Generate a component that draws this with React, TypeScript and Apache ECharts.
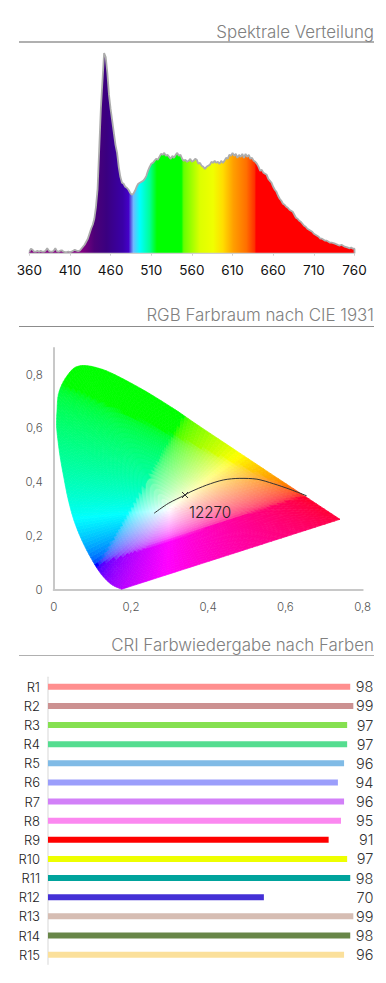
import React, { useEffect, useRef } from "react";
import * as echarts from "echarts";

const W = 386;
const H = 983;
const FONT = "Inter, 'Open Sans', sans-serif";

// --- Spectrum (relative intensity, %, one value every 2 nm from 360 nm)
const spectrumStart = 360;
const spectrumStep = 2;
const spectrumValues = [
  0.5, 2, 1.5, 0.5, 0.5, 1, 0.5, 1, 0.5, 0.5, 1, 2.2, 1, 0.5, 0.5, 1, 2.2, 0.8, 0.5, 1, 1.2, 0.5, 0.3, 0.3, 0.5, 0.3, 0.5, 1, 1.5, 1, 0.8, 1, 2,
  3, 4, 5.5, 7, 9.5, 12, 14, 17, 23, 32, 52, 72, 86, 100, 98, 90, 79, 72, 66, 60, 54, 50, 43, 38, 35, 34.5, 33, 32.5, 31.5, 30, 29, 29.5, 31, 33,
  34.5, 35, 35.5, 36, 37, 38.5, 41, 43, 44.5, 45, 46, 47, 46.5, 48, 49.5, 49, 50, 48.5, 49, 48, 47, 48.5, 47.5, 49, 50, 48.5, 49, 47, 46, 46.5,
  45.5, 46, 47, 45.5, 46, 47, 46.5, 44.5, 45, 43.5, 43, 42, 43, 43.5, 44, 45.5, 45, 46, 45, 45.5, 44.5, 46, 45, 46, 47.5, 47, 49, 48.5, 50, 48.5,
  49.5, 47.5, 49, 48, 49.5, 47.5, 49.5, 48, 49, 47, 47.5, 46, 45.5, 44.5, 43, 41, 41.5, 40, 39.5, 39, 37, 36, 35, 33, 31.5, 30.5, 28.5, 27, 26,
  24.5, 24, 23, 22.5, 21.5, 21, 20.5, 19, 17.5, 17, 16, 15.5, 14.5, 13.5, 13, 12, 11.5, 11, 10.5, 9.5, 9, 8.5, 8, 7, 7, 6.5, 6, 6, 5.5, 5, 5, 4.8,
  4.5, 4.2, 3.8, 3.6, 4, 3.5, 3, 2.8, 2.5, 2.2, 2.6, 2, 2,
];
const spectrumColorStops: [number, string][] = [
  [360, "#800080"], [425, "#800080"], [440, "#4c0078"], [455, "#3a0080"], [475, "#3a00a8"], [482, "#4400c8"],
  [488, "#70b8ff"], [496, "#00ffff"], [508, "#00ff99"], [517, "#00ff00"], [547, "#00ff00"], [550, "#66ff00"],
  [570, "#ddff00"], [586, "#f0ff00"], [598, "#ffdd00"], [611, "#ff9f00"], [627, "#ff7000"], [637, "#ff3000"],
  [639, "#ff0000"], [760, "#ff0000"],
];

// --- CIE 1931 chromaticity diagram (outline)
const locusX = [0.176, 0.159, 0.141, 0.115, 0.081, 0.055, 0.038, 0.025, 0.016, 0.0085, 0.0075, 0.0085, 0.012, 0.025, 0.047, 0.064, 0.081, 0.107, 0.15, 0.236, 0.323, 0.366, 0.553, 0.741];
const locusY = [0.001, 0.011, 0.029, 0.073, 0.159, 0.247, 0.333, 0.427, 0.501, 0.588, 0.625, 0.662, 0.725, 0.774, 0.818, 0.832, 0.834, 0.828, 0.806, 0.74, 0.662, 0.619, 0.44, 0.2615];
const planckX = [0.26, 0.297, 0.34, 0.353, 0.396, 0.439, 0.482, 0.526, 0.569, 0.612, 0.655];
const planckY = [0.284, 0.321, 0.352, 0.363, 0.389, 0.408, 0.414, 0.411, 0.394, 0.373, 0.349];
const whitePointXY = [0.34, 0.352];
const whitePointLabel = "12270";
const primaries = { r: [0.655, 0.35], g: [0.31, 0.576], b: [0.115, 0.095], w: [0.3, 0.3] };
const gamutGamma = 2.6;

// --- CRI
const criNames = ["R1", "R2", "R3", "R4", "R5", "R6", "R7", "R8", "R9", "R10", "R11", "R12", "R13", "R14", "R15"];
const criValues = [98, 99, 97, 97, 96, 94, 96, 95, 91, 97, 98, 70, 99, 98, 96];
const criColors = ["#ff8f8f", "#cc9191", "#85e050", "#55dd90", "#80bbe6", "#9b9efb", "#d280f8", "#fb88f0", "#ff0000", "#eeff00", "#00a39c", "#4430d6", "#d6bdb3", "#688648", "#fbe09b"];

const titles = ["Spektrale Verteilung", "RGB Farbraum nach CIE 1931", "CRI Farbwiedergabe nach Farben"];

function inv3(m: number[][]) {
  const [a, b, c] = m[0], [d, e, f] = m[1], [g, h, i] = m[2];
  const A = e * i - f * h, B = f * g - d * i, C = d * h - e * g;
  const det = a * A + b * B + c * C;
  return [
    [A / det, (c * h - b * i) / det, (b * f - c * e) / det],
    [B / det, (a * i - c * g) / det, (c * d - a * f) / det],
    [C / det, (b * g - a * h) / det, (a * e - b * d) / det],
  ];
}
const toXYZ = (p: number[]) => [p[0] / p[1], 1, (1 - p[0] - p[1]) / p[1]];
function buildRgbMatrix() {
  const { r, g, b, w } = primaries;
  const R = toXYZ(r), G = toXYZ(g), B = toXYZ(b), Wt = toXYZ(w);
  const base = [[R[0], G[0], B[0]], [R[1], G[1], B[1]], [R[2], G[2], B[2]]];
  const bi = inv3(base);
  const s = bi.map((row) => row[0] * Wt[0] + row[1] * Wt[1] + row[2] * Wt[2]);
  return inv3(base.map((row) => row.map((v, i) => v * s[i])));
}
const rgbMatrix = buildRgbMatrix();
function xyColor(x: number, y: number) {
  const Y = Math.max(y, 0.001);
  const xyz = [x / Y, 1, (1 - x - Y) / Y];
  let rgb = rgbMatrix.map((row) => Math.max(0, row[0] * xyz[0] + row[1] * xyz[1] + row[2] * xyz[2]));
  const mx = Math.max(...rgb, 1e-6);
  rgb = rgb.map((v) => Math.round(255 * Math.pow(v / mx, 1 / gamutGamma)));
  return `rgb(${rgb[0]},${rgb[1]},${rgb[2]})`;
}

const commaLabel = (v: number) => String(v).replace(".", ",");

// Catmull-Rom point on the curved part of the outline, straight on its long chords.
function outlinePoint(i: number, t: number) {
  const n = locusX.length;
  const j = (i + 1) % n;
  if (i < 1 || i > 19) {
    return [locusX[i] + (locusX[j] - locusX[i]) * t, locusY[i] + (locusY[j] - locusY[i]) * t];
  }
  const cr = (a: number, b: number, c: number, d: number) =>
    0.5 * (2 * b + (c - a) * t + (2 * a - 5 * b + 4 * c - d) * t * t + (3 * b - a - 3 * c + d) * t * t * t);
  return [
    cr(locusX[i - 1], locusX[i], locusX[j], locusX[j + 1]),
    cr(locusY[i - 1], locusY[i], locusY[j], locusY[j + 1]),
  ];
}

function buildOption() {
  const center = primaries.w;
  const RINGS = 28;
  const renderGamut = (params: any, api: any) => {
    const i = params.dataIndex;
    const n = locusX.length;
    const j = (i + 1) % n;
    const len = Math.hypot(locusX[j] - locusX[i], locusY[j] - locusY[i]);
    const subs = Math.max(3, Math.ceil(len / 0.014));
    const children: any[] = [];
    for (let s = 0; s < subs; s++) {
      const [ax, ay] = outlinePoint(i, s / subs);
      const [bx, by] = outlinePoint(i, (s + 1) / subs);
      for (let r = 0; r < RINGS; r++) {
        const t0 = r / RINGS, t1 = (r + 1) / RINGS;
        const lerp = (px: number, py: number, t: number) => [center[0] + (px - center[0]) * t, center[1] + (py - center[1]) * t];
        const corners = [lerp(ax, ay, t0), lerp(bx, by, t0), lerp(bx, by, t1), lerp(ax, ay, t1)];
        const tm = (t0 + t1) / 2;
        const mid = lerp((ax + bx) / 2, (ay + by) / 2, tm);
        const col = xyColor(mid[0], mid[1]);
        children.push({
          type: "polygon",
          shape: { points: corners.map((c) => api.coord(c)) },
          style: { fill: col, stroke: col, lineWidth: 0.7 },
        });
      }
    }
    return { type: "group", children };
  };

  return {
    animation: false,
    backgroundColor: "#ffffff",
    title: titles.map((text, i) => ({
      text,
      right: 12,
      padding: 0,
      top: [23, 306, 636][i],
      textStyle: { fontFamily: FONT, fontSize: 16.9, fontWeight: 300, color: "#808080" },
    })),
    graphic: [
      { type: "line", shape: { x1: 19, y1: 42, x2: 374, y2: 42 }, style: { stroke: "#b0b0b0", lineWidth: 2 } },
      { type: "line", shape: { x1: 19, y1: 326.5, x2: 374, y2: 326.5 }, style: { stroke: "#8c8c8c", lineWidth: 1 } },
      { type: "line", shape: { x1: 19, y1: 655.5, x2: 374, y2: 655.5 }, style: { stroke: "#b0b0b0", lineWidth: 1 } },
    ],
    grid: [
      { left: 29.3, top: 53, width: 325.2, height: 199.7 },
      { left: 53.7, top: 347.9, width: 309, height: 241.6 },
      { left: 48, top: 677.2, width: 308.4, height: 287 },
    ],
    xAxis: [
      {
        gridIndex: 0, type: "value", min: 360, max: 760, interval: 50,
        axisLine: { lineStyle: { color: "#cfcfcf", width: 2 } },
        axisTick: { show: true, length: 3, lineStyle: { color: "#cfcfcf" } },
        axisLabel: { margin: 10, fontFamily: FONT, fontSize: 13.5, color: "#111111" },
        splitLine: { show: false },
      },
      {
        gridIndex: 1, type: "value", min: 0, max: 0.8, interval: 0.2,
        axisLine: { lineStyle: { color: "#c8c8c8", width: 2 } },
        axisTick: { show: false },
        axisLabel: { margin: 11, fontFamily: FONT, fontSize: 11.5, fontWeight: 300, color: "#555555", formatter: commaLabel },
        splitLine: { show: false },
      },
      {
        gridIndex: 2, type: "value", min: 0, max: 100, show: false,
      },
    ],
    yAxis: [
      { gridIndex: 0, type: "value", min: 0, max: 100, show: false },
      {
        gridIndex: 1, type: "value", min: 0, max: 0.9, interval: 0.2,
        axisLine: { show: true, onZero: false, lineStyle: { color: "#c8c8c8", width: 2 } },
        axisTick: { show: false },
        axisLabel: { margin: 11, showMaxLabel: false, fontFamily: FONT, fontSize: 11.5, fontWeight: 300, color: "#555555", formatter: commaLabel },
        splitLine: { show: false },
      },
      {
        gridIndex: 2, type: "category", inverse: true, data: criNames,
        axisLine: { show: true, lineStyle: { color: "#e4e4e4", width: 1.5 } },
        axisTick: { show: false },
        axisLabel: { margin: 8, fontFamily: FONT, fontSize: 13, fontWeight: 300, color: "#222222", interval: 0 },
      },
      {
        gridIndex: 2, type: "category", inverse: true, position: "right", data: criValues.map(String),
        axisLine: { show: false },
        axisTick: { show: false },
        axisLabel: { margin: 17, align: "right", fontFamily: FONT, fontSize: 14.5, fontWeight: 300, color: "#333333", interval: 0 },
      },
    ],
    series: [
      {
        type: "line",
        xAxisIndex: 0,
        yAxisIndex: 0,
        showSymbol: false,
        data: [...spectrumValues.map((v, i) => [spectrumStart + i * spectrumStep, v]), [760, 0]],
        lineStyle: { color: "#adadad", width: 1.8 },
        areaStyle: {
          opacity: 1,
          color: new echarts.graphic.LinearGradient(
            0, 0, 1, 0,
            spectrumColorStops.map(([nm, color]) => ({ offset: (nm - 360) / 400, color }))
          ),
        },
      },
      {
        type: "custom",
        xAxisIndex: 1,
        yAxisIndex: 1,
        silent: true,
        clip: false,
        encode: { x: 0, y: 1 },
        data: locusX.map((x, i) => [x, locusY[i]]),
        renderItem: renderGamut,
        z: 2,
      },
      {
        type: "line",
        xAxisIndex: 1,
        yAxisIndex: 1,
        smooth: 0.3,
        showSymbol: false,
        silent: true,
        data: planckX.map((x, i) => [x, planckY[i]]),
        lineStyle: { color: "#333333", width: 1 },
        z: 3,
      },
      {
        type: "scatter",
        xAxisIndex: 1,
        yAxisIndex: 1,
        silent: true,
        symbol: "path://M0 0L10 10M10 0L0 10",
        symbolSize: 6,
        data: [whitePointXY],
        itemStyle: { color: "none", borderColor: "#333333", borderWidth: 1, opacity: 1 },
        label: {
          show: true,
          formatter: whitePointLabel,
          position: "bottom",
          offset: [25, -1],
          fontFamily: FONT,
          fontSize: 15.2,
          fontWeight: 300,
          color: "#222222",
        },
        z: 4,
      },
      {
        type: "bar",
        xAxisIndex: 2,
        yAxisIndex: 2,
        barWidth: 6,
        silent: true,
        data: criValues.map((v, i) => ({ value: v, itemStyle: { color: criColors[i] } })),
      },
    ],
  };
}

export default function App() {
  const ref = useRef<HTMLDivElement>(null);
  useEffect(() => {
    document.body.style.margin = "0";
    const chart = echarts.init(ref.current!, undefined, { renderer: "svg" });
    chart.setOption(buildOption() as any);
    return () => chart.dispose();
  }, []);
  return <div ref={ref} style={{ width: W, height: H, background: "#fff" }} />;
}
